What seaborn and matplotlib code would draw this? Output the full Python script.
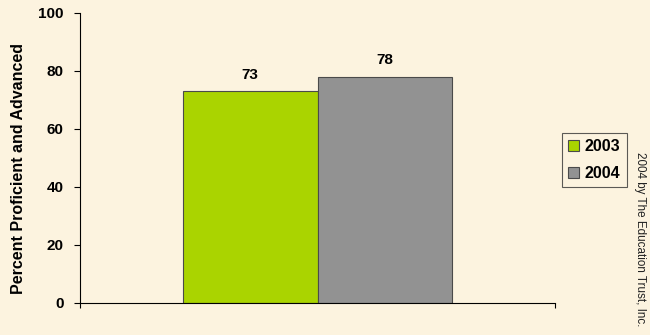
import matplotlib
matplotlib.use("Agg")
import matplotlib.pyplot as plt
import seaborn as sns
import pandas as pd

# Data
groups = ["All Students", "All Students"]
years = ["2003", "2004"]
percent = [73, 78]
y_ticks = [0, 20, 40, 60, 80, 100]

palette = {"2003": "#AAD400", "2004": "#929292"}
bg = "#FCF3DF"

sns.set_theme(style="white")
plt.rcParams["font.family"] = ["Liberation Sans", "DejaVu Sans"]
plt.rcParams.update({"text.color": "black", "axes.labelcolor": "black",
                     "xtick.color": "black", "ytick.color": "black"})

df = pd.DataFrame({"group": groups, "year": years, "percent": percent})

fig = plt.figure(figsize=(6.5, 3.35), dpi=100, facecolor=bg)
ax = fig.add_axes([80 / 650, 1 - 303 / 335, 475 / 650, 290 / 335])
ax.set_facecolor(bg)

sns.barplot(data=df, x="group", y="percent", hue="year", palette=palette,
            width=0.8, edgecolor="#4a4a4a", linewidth=0.8, ax=ax,
            saturation=1, legend=True)

# value labels above each bar
for container in ax.containers:
    ax.bar_label(container, fmt="%d", padding=7, fontsize=11, fontweight="bold",
                 color="black")

ax.set_xlim(-0.704, 0.704)
ax.set_ylim(0, 100)
ax.set_yticks(y_ticks)
ax.set_yticklabels([str(t) for t in y_ticks], fontsize=11, fontweight="bold")
ax.set_xticks([-0.704, 0.704])
ax.set_xticklabels(["", ""])
ax.tick_params(axis="y", direction="out", length=4.3, width=0.8, left=True, pad=7.5)
ax.tick_params(axis="x", direction="out", length=3.6, width=0.8, bottom=True)
ax.set_xlabel("")
ax.set_ylabel("Percent Proficient and Advanced", fontsize=11.5, fontweight="bold")
ax.yaxis.set_label_coords(-0.114, 0.465)

for side in ("top", "right"):
    ax.spines[side].set_visible(False)
for side in ("left", "bottom"):
    ax.spines[side].set_color("black")
    ax.spines[side].set_linewidth(0.8)

leg = ax.legend(loc="upper left", bbox_to_anchor=(562 / 650, 1 - 133 / 335),
                bbox_transform=fig.transFigure, frameon=True, fancybox=False,
                prop={"weight": "bold", "size": 11.5}, handlelength=0.7,
                handleheight=0.7, handletextpad=0.35, borderpad=0.38,
                labelspacing=0.75, borderaxespad=0)
leg.get_frame().set_edgecolor("#333333")
leg.get_frame().set_linewidth(0.8)
leg.get_frame().set_facecolor(bg)

fig.text(640 / 650, 1 - 152 / 335, "2004 by The Education Trust, Inc.",
         rotation=270, ha="center", va="top", fontsize=8.4, color="#222222")

fig.savefig("out.png", dpi=100, facecolor=bg)
